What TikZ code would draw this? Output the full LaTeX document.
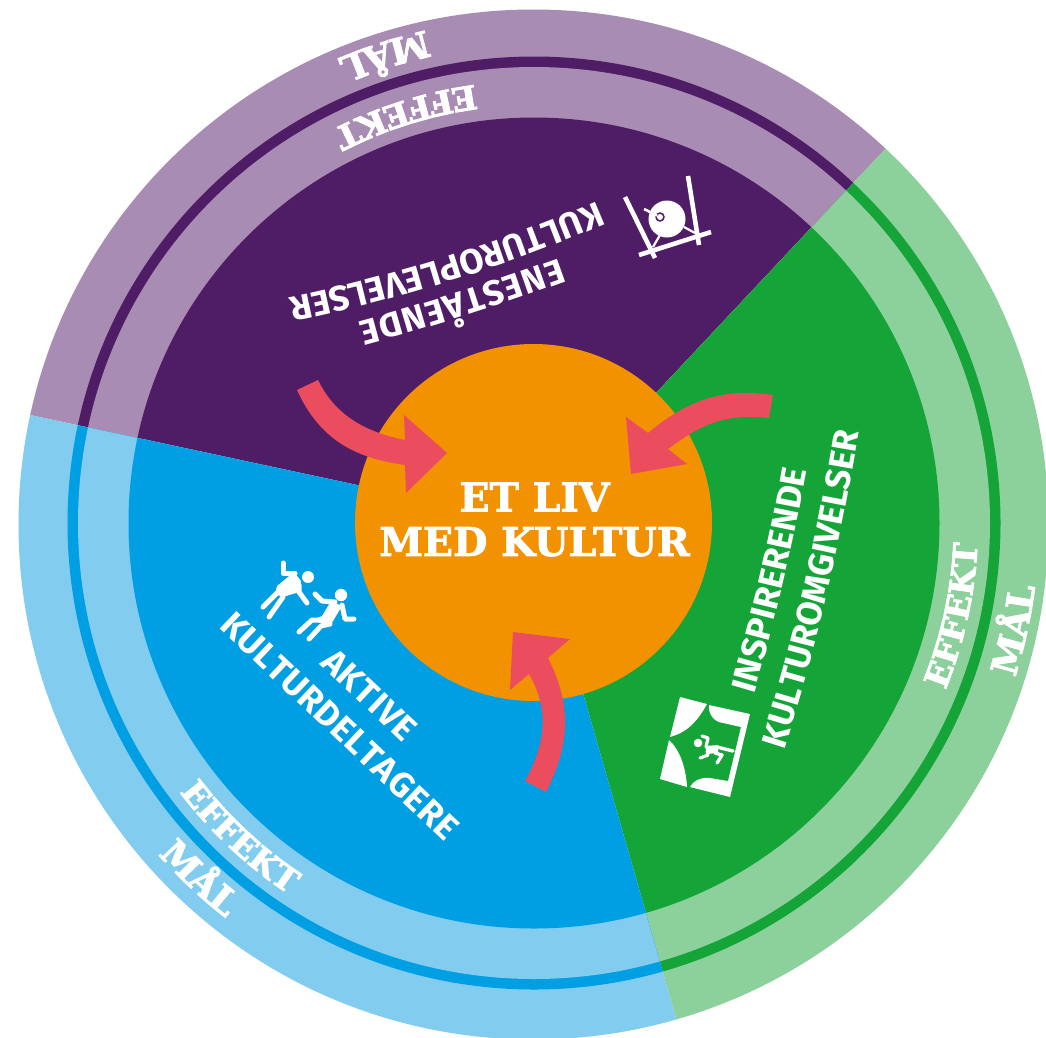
\documentclass[tikz,border=0pt]{standalone}
\usepackage{fontspec}
\usetikzlibrary{calc,decorations.text}
\newfontfamily\slabf[UprightFont=* Bold,FakeBold=2.6]{DejaVu Serif}
\newfontfamily\slabtitle[UprightFont=* Bold,FakeBold=2]{DejaVu Serif}
\newfontfamily\gothf[UprightFont=* Bold]{Fira Sans}
\definecolor{pdark}{HTML}{4F1D66}
\definecolor{plight}{HTML}{A98CB3}
\definecolor{gdark}{HTML}{14A438}
\definecolor{glight}{HTML}{8CD09C}
\definecolor{bdark}{HTML}{009FE3}
\definecolor{blight}{HTML}{82CCF0}
\definecolor{orangec}{HTML}{F39200}
\definecolor{redc}{HTML}{EB4C5E}
\newcommand{\sector}[4]{%
  \begin{scope}
    \clip (c) -- ($(c)+(#1:800pt)$) -- ($(c)+({(#1+#2)/2}:1600pt)$) -- ($(c)+(#2:800pt)$) -- cycle;
    \fill[#4] (co) circle (515pt);
    \fill[#3] (c) circle (466.5pt);
    \fill[#4] (c) circle (456pt);
    \fill[#3] (c) circle (405.5pt);
  \end{scope}}
\newcommand{\arclabel}[5]{%
  \path[decorate,decoration={text along path,text align=fit to path,
    text={|\color{white}\slabf\fontsize{#1}{#1}\selectfont|#5}}]
    ($(c)+(#3:#2pt)$) arc[start angle=#3,end angle=#4,radius=#2pt];}
\tikzset{
  iconline/.style={draw=white,line width=#1,line cap=round,line join=round},
  iconbar/.style={draw=white,line width=4.6pt},
  arrowshape/.style={fill=redc}
}
\newcommand{\gothtext}{\color{white}\gothf\fontsize{35}{35}\selectfont}
\begin{document}
\begin{tikzpicture}[x=1pt,y=-1pt]
\path[use as bounding box] (0,0) rectangle (1046,1037);
\clip (0,0) rectangle (1046,1037);
\fill[white] (0,0) rectangle (1046,1037);
\coordinate (c) at (534,523);
\coordinate (co) at (533.5,524.5);
\sector{46.8}{167.9}{pdark}{plight}
\sector{-74}{46.8}{gdark}{glight}
\sector{167.9}{286}{bdark}{blight}

% centre
\node[circle,fill=orangec,minimum size=357pt,inner sep=0pt] (hub) at (533.5,522.5) {};
\node[font=\slabtitle\fontsize{39.5}{45}\selectfont,text=white,align=center,anchor=center] (title) at (534.5,519.5) {ET LIV\\[-0.5pt]MED KULTUR};

% arrows
\fill[arrowshape] (318,380) .. controls (335,415) and (365,432) .. (405,440) -- (404,415) -- (447,453) -- (406,493) -- (405,465) .. controls (355,458) and (320,440) .. (297,390) -- cycle;
\fill[arrowshape] (773,395) .. controls (725,388) and (690,398) .. (648,433) -- (626,417) -- (631,474) -- (687,464) -- (668,449) .. controls (700,425) and (725,413) .. (769,418) -- cycle;
\fill[arrowshape] (525,781) .. controls (545,745) and (550,710) .. (529,674) -- (510,690) -- (513,632) -- (570,639) -- (548,658) .. controls (572,705) and (570,745) .. (546,792) -- cycle;

% ring labels
\arclabel{33}{442}{97.7}{116.3}{EFFEKT}
\arclabel{36}{504}{102.4}{112.7}{MÅL}
\arclabel{33}{444}{-22.1}{-3.7}{EFFEKT}
\arclabel{36}{505}{-17.8}{-7.6}{MÅL}
\arclabel{33}{445}{217.2}{236.3}{EFFEKT}
\arclabel{36}{501}{221.4}{231.8}{MÅL}

% sector texts
\path[decorate,decoration={text along path,text align=fit to path,text={|\gothtext|KULTUROPLEVELSER}}]
  (597,201) .. controls (497,244) and (395,276) .. (288,298);
\path[decorate,decoration={text along path,text align=fit to path,text={|\gothtext|ENESTÅENDE}}]
  (559,258) .. controls (490,283) and (425,304) .. (358,322);
\path[decorate,decoration={text along path,text align=fit to path,text={|\gothtext|KULTUROMGIVELSER}}]
  (784,750) .. controls (818,646) and (841,541) .. (859,433);
\path[decorate,decoration={text along path,text align=fit to path,text={|\gothtext|INSPIRERENDE}}]
  (754,694) .. controls (776,619) and (793,547) .. (807,470);
\path[decorate,decoration={text along path,text align=fit to path,text={|\gothtext|KULTURDELTAGERE}}]
  (218,627) -- (445,842);
\path[decorate,decoration={text along path,text align=fit to path,text={|\gothtext|AKTIVE}}]
  (319,664) -- (403,743);

% drum icon
\draw[iconbar] (625,197) -- (655,258);
\draw[iconbar] (688,176) -- (699,245);
\draw[iconbar] (639,255) -- (711,232);
\draw[draw=white,line width=2.2pt] (660,235) -- (653,247);
\draw[draw=white,line width=2.2pt] (684,227) -- (695,233);
\fill[white] (667,219) circle (18.5pt);
\fill[pdark] (660,217) circle (4.8pt);
\fill[white] (660,217) circle (3pt);
\draw[white,line width=2.6pt] (644,209) -- (657,215.5);

% stage icon
\fill[white] (680,697) -- (707,704) .. controls (696,724) and (685,733) .. (670,737) -- cycle;
\fill[white] (669,740) .. controls (680,750) and (686,768) .. (687,787) -- (660,779) -- cycle;
\fill[white] (709,705) -- (750,714) -- (730,797) -- (690,787) .. controls (694,780) and (702,777) .. (710,778) -- (728,781) -- (741,727) -- (723,723) .. controls (714,722) and (708,714) .. (709,705) -- cycle;
\fill[white] (698,743) circle (4.3pt);
\draw[iconline=3.2pt] (702,736) -- (708,738) -- (706,747);
\draw[iconline=3.2pt] (700,758) -- (708,755) -- (707,751);
\draw[iconline=8pt,line cap=butt] (706,750) -- (718,749);
\draw[iconline=3.4pt] (717,747) -- (733,751);
\draw[iconline=3.4pt] (715,753) -- (722,755) -- (717,763);

% dancers icon
\fill[white] (308,577) circle (6pt);
\draw[iconline=5pt] (283,563) -- (283,573) -- (295,573);
\fill[white] (294,572) -- (301,581) -- (299,592) -- (283,597) -- (275,594) -- (277,586) -- cycle;
\draw[iconline=5pt] (263,607) -- (277,593);
\draw[iconline=5pt] (269,617) -- (283,597);
\draw[iconline=5pt] (299,585) -- (299,592) -- (307,603);
\fill[white] (341,595) circle (6.2pt);
\draw[iconline=5pt] (315,594) -- (322,601) -- (335,602);
\fill[white] (331,601) -- (342,606) -- (330,626) -- (312,620) -- (322,616) -- cycle;
\draw[iconline=5pt] (299,632) -- (312,620) -- (325,620);
\draw[iconline=5pt] (309,639) -- (321,626) -- (330,624);
\draw[iconline=5pt] (342,605) -- (345,619) -- (354,619);
\end{tikzpicture}
\end{document}
